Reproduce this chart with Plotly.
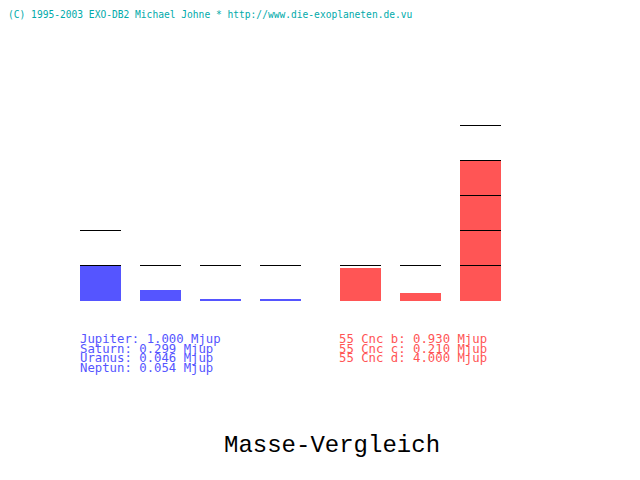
import math
import plotly.graph_objects as go

# Massen in Jupitermassen
sonnensystem = ["Jupiter", "Saturn", "Uranus", "Neptun"]
sonnensystem_masse = [1.000, 0.299, 0.046, 0.054]
cnc_planeten = ["55 Cnc b", "55 Cnc c", "55 Cnc d"]
cnc_masse = [0.930, 0.210, 4.000]

BLAU = "#5555FF"
ROT = "#FF5555"
TUERKIS = "#00AAAA"
W, H = 640, 480
RAND = 8           # Seitenrand des Browsers
PX_MJUP = 35.0     # Pixel pro Mjup
BASIS = 300.5      # Grundlinie (Pixel von oben)
BREITE = 41

x_sol = [100.5 + 60 * i for i in range(len(sonnensystem))]
x_cnc = [360.5 + 60 * i for i in range(len(cnc_planeten))]

fig = go.Figure()
fig.add_bar(x=x_sol, y=sonnensystem_masse, width=BREITE, marker_color=BLAU,
            marker_line_width=0, hoverinfo="skip")
fig.add_bar(x=x_cnc, y=cnc_masse, width=BREITE, marker_color=ROT,
            marker_line_width=0, hoverinfo="skip")

# Skalenstriche: je 1 Mjup bis eine Stufe ueber dem Balken
lx, ly = [], []
for xc, m in zip(x_sol + x_cnc, sonnensystem_masse + cnc_masse):
    for k in range(1, math.floor(m) + 2):
        lx += [xc - BREITE / 2, xc + BREITE / 2, None]
        ly += [k, k, None]
fig.add_scatter(x=lx, y=ly, mode="lines", line=dict(color="black", width=1),
                hoverinfo="skip")


def py(p):
    return 1 - (p - RAND) / H


fig.add_annotation(x=0, y=1, xref="paper", yref="paper", xanchor="left", yanchor="top",
                   xshift=-2, yshift=1, showarrow=False,
                   text="(C) 1995-2003 EXO-DB2 Michael Johne * http://www.die-exoplaneten.de.vu",
                   font=dict(family="DejaVu Sans Mono", size=9.6, color=TUERKIS))

notes = []
for i, (n, m) in enumerate(zip(sonnensystem, sonnensystem_masse)):
    notes.append(dict(x=78, y=py(339 + 9.7 * i), text=f"{n}: {m:.3f} Mjup",
                      font=dict(family="DejaVu Sans Mono", size=12.3, color=BLAU)))
for i, (n, m) in enumerate(zip(cnc_planeten, cnc_masse)):
    notes.append(dict(x=337, y=py(339 + 9.7 * i), text=f"{n}: {m:.3f} Mjup",
                      font=dict(family="DejaVu Sans Mono", size=12.3, color=ROT)))
for a in notes:
    a.update(xref="x", yref="paper", xanchor="left", yanchor="middle", showarrow=False)
    fig.add_annotation(**a)

fig.add_annotation(x=332, y=py(445), xref="x", yref="paper", text="Masse-Vergleich",
                   showarrow=False, xanchor="center", yanchor="middle",
                   font=dict(family="Liberation Mono", size=24, color="black"))

fig.update_xaxes(range=[RAND, W + RAND], visible=False, fixedrange=True)
fig.update_yaxes(range=[-(H + RAND - BASIS) / PX_MJUP, (BASIS - RAND) / PX_MJUP],
                 visible=False, fixedrange=True)
fig.update_layout(width=W, height=H, margin=dict(l=0, r=0, t=0, b=0),
                  paper_bgcolor="white", plot_bgcolor="white",
                  showlegend=False, bargap=0, barmode="overlay")

fig.write_html("out.html")
